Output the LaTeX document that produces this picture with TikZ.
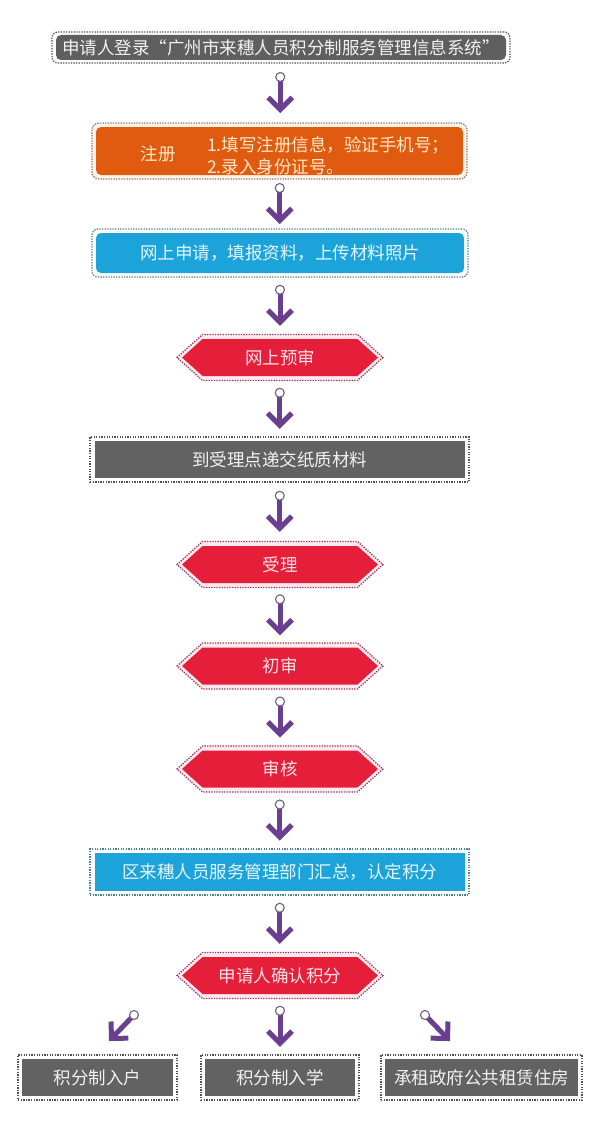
\documentclass[tikz,border=0pt]{standalone}
\usepackage{fontspec}
\newfontfamily\cjk{Noto Sans CJK SC}
\usetikzlibrary{calc,shapes.symbols}
\definecolor{topgray}{HTML}{5F5F5F}
\definecolor{boxgray}{HTML}{626262}
\definecolor{dotgray}{HTML}{505050}
\definecolor{graytext}{HTML}{F2F2F2}
\definecolor{orangefill}{HTML}{E05A10}
\definecolor{orangedot}{HTML}{8A7565}
\definecolor{creamgap}{HTML}{FBF3EA}
\definecolor{orangetext}{HTML}{FDE9C8}
\definecolor{bluefill}{HTML}{1CA3D9}
\definecolor{bluedot}{HTML}{4A7F98}
\definecolor{bluetext}{HTML}{E8F7FD}
\definecolor{redfill}{HTML}{E51F3A}
\definecolor{reddot}{HTML}{9B3058}
\definecolor{pinkgap}{HTML}{FCEAEE}
\definecolor{pinktext}{HTML}{FDE2E7}
\definecolor{arpurple}{HTML}{6B3F8F}
\definecolor{circline}{HTML}{6E5F7A}
\newcommand\flowar[2]{%
  \coordinate (fa-t) at ($(#2)!3.5pt!(#1)$);
  \draw[arshaft] ($(#1)!4pt!(#2)$) -- ($(#2)!7pt!(#1)$);
  \draw[arhead] ($(fa-t)!17pt!45:(#1)$) -- (fa-t) -- ($(fa-t)!17pt!-45:(#1)$);
  \draw[arcirc] (#1) circle (4.5pt);}
\newcommand\vflow[2]{%
  \coordinate (vf-m) at ($(#1.south)!0.5!(#2.north)$);
  \coordinate (vf-c) at ($(vf-m)+(0,-16)$);
  \coordinate (vf-t) at ($(vf-m)+(0,20)$);
  \flowar{vf-c}{vf-t}}
\tikzset{
  cjktext/.style={font=\cjk\fontsize{17.5}{22}\selectfont, inner sep=0pt},
  dots/.style={line width=1.3pt, dash pattern=on 1.3pt off 1.3pt},
  grayout/.style={dots, draw=dotgray, fill=white, inner sep=0pt},
  grayin/.style={cjktext, fill=boxgray, text=graytext},
  topout/.style={grayout, rounded corners=6pt},
  topin/.style={cjktext, fill=topgray, text=graytext, rounded corners=5pt},
  orangeout/.style={dots, draw=orangedot, fill=creamgap, inner sep=0pt, rounded corners=7pt},
  orangein/.style={cjktext, fill=orangefill, rounded corners=5pt},
  orangetxt/.style={cjktext, text=orangetext},
  blueout/.style={dots, draw=bluedot, fill=white, inner sep=0pt},
  bluein/.style={cjktext, fill=bluefill, text=bluetext},
  hexshape/.style={signal, signal to=east and west, signal pointer angle=84, inner sep=0pt},
  hexout/.style={hexshape, dots, draw=reddot, fill=pinkgap, minimum width=206, minimum height=46},
  hexin/.style={hexshape, cjktext, fill=redfill, text=pinktext, minimum width=196, minimum height=37},
  arshaft/.style={draw=arpurple, line width=5pt, line cap=butt},
  arhead/.style={draw=arpurple, line width=5pt, line cap=butt, line join=miter},
  arcirc/.style={fill=white, draw=circline, line width=1.1pt},
}
\begin{document}
\begin{tikzpicture}[x=1pt,y=-1pt]
\fill[white] (0,0) rectangle (593,1132);
\useasboundingbox (0,0) rectangle (593,1132);
% top
\node[topout, minimum width=458, minimum height=31] (s0o) at (281,47.5) {};
\node[topin, minimum width=450, minimum height=25] (s0) at (s0o) {申请人登录“广州市来穗人员积分制服务管理信息系统”};
% register
\node[orangeout, minimum width=375, minimum height=56] (s1o) at (279.5,151) {};
\node[orangein, minimum width=367, minimum height=48] (s1) at (s1o) {};
\node[orangetxt] (s1a) at (158,154) {注册};
\node[orangetxt, align=left, anchor=west] (s1b) at (207,156) {1.填写注册信息，验证手机号；\\2.录入身份证号。};
% online apply
\node[blueout, rounded corners=6pt, minimum width=376, minimum height=48] (s2o) at (280,253) {};
\node[bluein, rounded corners=5pt, minimum width=368, minimum height=40] (s2) at (s2o) {网上申请，填报资料，上传材料照片};
% pre-review
\node[hexout] (h1o) at (280,357.5) {};
\node[hexin] (h1) at (h1o) {网上预审};
% paper materials
\node[grayout, minimum width=379, minimum height=45] (s3o) at (279.5,459.5) {};
\node[grayin, minimum width=370, minimum height=37] (s3) at (s3o) {到受理点递交纸质材料};
% hexagons
\node[hexout] (h2o) at (280,564.5) {};
\node[hexin] (h2) at (h2o) {受理};
\node[hexout] (h3o) at (280,666) {};
\node[hexin] (h3) at (h3o) {初审};
\node[hexout] (h4o) at (280,769) {};
\node[hexin] (h4) at (h4o) {审核};
% summary
\node[blueout, minimum width=379, minimum height=46] (s4o) at (279.5,872) {};
\node[bluein, minimum width=370, minimum height=38] (s4) at (s4o) {区来穗人员服务管理部门汇总，认定积分};
% confirm
\node[hexout] (h5o) at (280,975.5) {};
\node[hexin] (h5) at (h5o) {申请人确认积分};
% bottom
\node[grayout, minimum width=159, minimum height=45] (b1o) at (97.5,1077.5) {};
\node[grayin, minimum width=151, minimum height=37] (b1) at (b1o) {积分制入户};
\node[grayout, minimum width=158, minimum height=45] (b2o) at (280,1077.5) {};
\node[grayin, minimum width=150, minimum height=37] (b2) at (b2o) {积分制入学};
\node[grayout, minimum width=201, minimum height=45] (b3o) at (481.5,1077.5) {};
\node[grayin, minimum width=193, minimum height=37] (b3) at (b3o) {承租政府公共租赁住房};
% arrows
\vflow{s0o}{s1o}
\vflow{s1o}{s2o}
\vflow{s2o}{h1o}
\vflow{h1o}{s3o}
\vflow{s3o}{h2o}
\vflow{h2o}{h3o}
\vflow{h3o}{h4o}
\vflow{h4o}{s4o}
\vflow{s4o}{h5o}
\vflow{h5o}{b2o}
\coordinate (dl-c) at (134,1015);
\coordinate (dl-t) at (109,1041);
\coordinate (dr-c) at (425,1015);
\coordinate (dr-t) at (450,1041);
\flowar{dl-c}{dl-t}
\flowar{dr-c}{dr-t}
\end{tikzpicture}
\end{document}
